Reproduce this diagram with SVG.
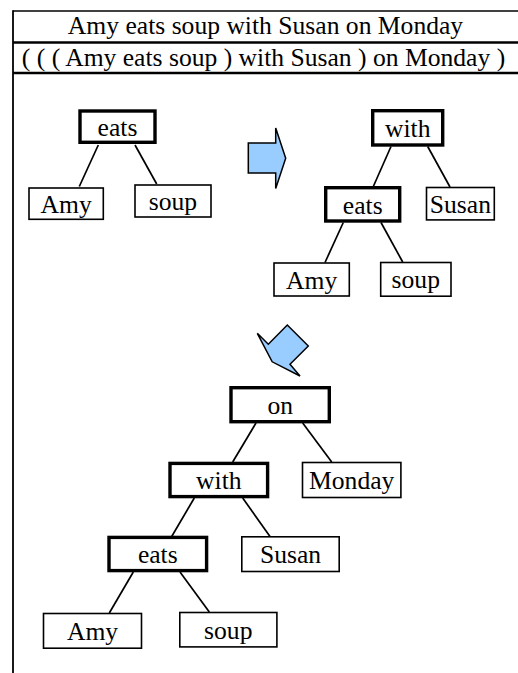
<svg xmlns="http://www.w3.org/2000/svg" width="518" height="673" viewBox="0 0 518 673">
  <style>
    text { font-family: "Liberation Serif", "Times New Roman", serif; font-size: 25.6px; fill: #000; text-anchor: middle; }
    .node { fill: #fff; stroke: #000; stroke-width: 1.6; }
    .head { fill: #fff; stroke: #000; stroke-width: 3.4; }
    .edge { stroke: #000; stroke-width: 1.7; fill: none; }
    .frame { stroke: #000; fill: none; }
    .step { fill: #99ccff; stroke: #000; stroke-width: 1.5; stroke-linejoin: miter; }
  </style>

  <rect width="518" height="673" fill="#fff"/>

  <!-- table frame with the sentence and its bracketing -->
  <g id="frame">
    <line class="frame" x1="13" y1="11" x2="518" y2="11" stroke-width="1.6"/>
    <line class="frame" x1="13" y1="42.5" x2="518" y2="42.5" stroke-width="2.4"/>
    <line class="frame" x1="13" y1="73" x2="518" y2="73" stroke-width="2.4"/>
    <line class="frame" x1="13" y1="10.2" x2="13" y2="673" stroke-width="1.8"/>
    <text x="265.5" y="34.3">Amy eats soup with Susan on Monday</text>
    <text x="263.5" y="65.5">( ( ( Amy eats soup ) with Susan ) on Monday )</text>
  </g>

  <!-- tree connectors -->
  <g id="connectors">
    <line class="edge" x1="98.3" y1="145" x2="79.3" y2="186.5"/>
    <line class="edge" x1="135" y1="145" x2="156.7" y2="184"/>

    <line class="edge" x1="391" y1="146.5" x2="373.3" y2="186.5"/>
    <line class="edge" x1="427.7" y1="146.5" x2="450" y2="187"/>
    <line class="edge" x1="343.3" y1="222.5" x2="325" y2="262.5"/>
    <line class="edge" x1="381" y1="222.5" x2="402.7" y2="262"/>

    <line class="edge" x1="256" y1="423" x2="232.7" y2="462"/>
    <line class="edge" x1="302.7" y1="423" x2="331.7" y2="462"/>
    <line class="edge" x1="194.3" y1="498" x2="171.7" y2="536.5"/>
    <line class="edge" x1="242.7" y1="498" x2="270" y2="536.5"/>
    <line class="edge" x1="133.3" y1="572" x2="109.3" y2="613"/>
    <line class="edge" x1="180" y1="572" x2="209.3" y2="612"/>
  </g>

  <!-- step arrows -->
  <g id="step-right">
    <polygon class="step" points="248.3,143 275.7,143 275.7,128 285.7,158.3 275.7,188.5 275.7,173 248.3,173"/>
  </g>
  <g id="step-down">
    <polygon class="step" points="257.3,333.3 268.3,344.3 287.3,325 308.3,346 290,364.3 300,376 272.2,361.8"/>
  </g>

  <!-- tree 1 -->
  <g id="t1-eats"><rect class="head" x="80" y="111" width="75" height="31.3"/><text x="117.5" y="136.3">eats</text></g>
  <g id="t1-amy"><rect class="node" x="29" y="188" width="74.3" height="31.3"/><text x="66.2" y="212.7">Amy</text></g>
  <g id="t1-soup"><rect class="node" x="135" y="185" width="76" height="32"/><text x="173" y="210.2">soup</text></g>

  <!-- tree 2 -->
  <g id="t2-with"><rect class="head" x="372.7" y="110.7" width="70" height="34.3"/><text x="407.7" y="137">with</text></g>
  <g id="t2-eats"><rect class="head" x="325.7" y="187.7" width="74" height="33.3"/><text x="362.7" y="213.5">eats</text></g>
  <g id="t2-susan"><rect class="node" x="426.5" y="187.5" width="67.8" height="32.4"/><text x="460.4" y="212.8">Susan</text></g>
  <g id="t2-amy"><rect class="node" x="274" y="263" width="75.3" height="33"/><text x="311.7" y="288.6">Amy</text></g>
  <g id="t2-soup"><rect class="node" x="380.7" y="262.5" width="70.3" height="33.7"/><text x="415.8" y="288.3">soup</text></g>

  <!-- tree 3 -->
  <g id="t3-on"><rect class="head" x="231" y="387.7" width="98.3" height="34"/><text x="280.2" y="413.8">on</text></g>
  <g id="t3-with"><rect class="head" x="170" y="463.4" width="97.6" height="33.2"/><text x="218.8" y="489.1">with</text></g>
  <g id="t3-monday"><rect class="node" x="302.5" y="462.5" width="98.4" height="35"/><text x="351.7" y="489.1">Monday</text></g>
  <g id="t3-eats"><rect class="head" x="109" y="537.4" width="97.6" height="33.2"/><text x="157.8" y="563.1">eats</text></g>
  <g id="t3-susan"><rect class="node" x="241.8" y="536.8" width="97.4" height="34.7"/><text x="290.5" y="563.3">Susan</text></g>
  <g id="t3-amy"><rect class="node" x="43.5" y="613.5" width="98" height="34.7"/><text x="92.5" y="640.1">Amy</text></g>
  <g id="t3-soup"><rect class="node" x="179.8" y="612.5" width="97.1" height="34.4"/><text x="228.3" y="638.8">soup</text></g>
</svg>
